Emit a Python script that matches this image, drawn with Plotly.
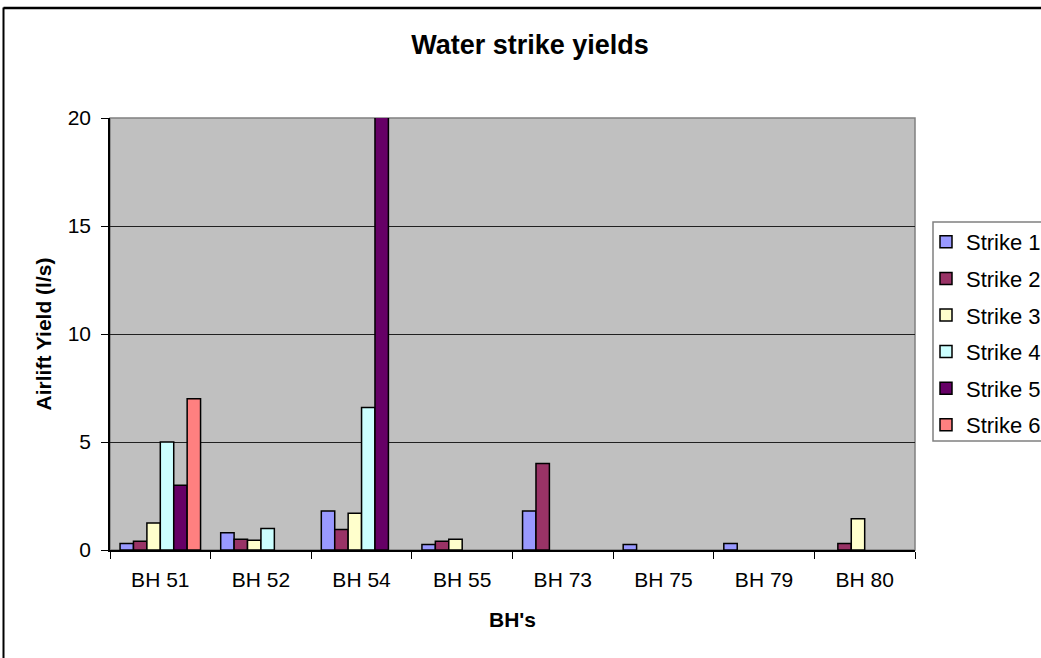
import plotly.graph_objects as go

categories = ["BH 51", "BH 52", "BH 54", "BH 55", "BH 73", "BH 75", "BH 79", "BH 80"]
series_names = ["Strike 1", "Strike 2", "Strike 3", "Strike 4", "Strike 5", "Strike 6"]
strike1 = [0.3, 0.8, 1.8, 0.25, 1.8, 0.25, 0.3, None]
strike2 = [0.4, 0.5, 0.95, 0.4, 4.0, None, None, 0.3]
strike3 = [1.25, 0.45, 1.7, 0.5, None, None, None, 1.45]
strike4 = [5.0, 1.0, 6.6, None, None, None, None, None]
strike5 = [3.0, None, 20.1, None, None, None, None, None]
strike6 = [7.0, None, None, None, None, None, None, None]
colors = ["#9999FF", "#993366", "#FFFFCC", "#CCFFFF", "#660066", "#FF8080"]
y_ticks = [0, 5, 10, 15, 20]

FONT = "Arial, Liberation Sans, sans-serif"
W, H = 1041, 658
L, R, T, B = 110, 915, 118, 550

fig = go.Figure()
for i, (name, vals) in enumerate(zip(series_names, [strike1, strike2, strike3, strike4, strike5, strike6])):
    fig.add_trace(go.Bar(
        x=categories, y=vals, name=name, legendgroup=name,
        marker=dict(color=colors[i], line=dict(color="black", width=1.5)),
        cliponaxis=False,
    ))

def px_x(p):
    return (p - L) / (R - L)

def px_y(p):
    return (B - p) / (B - T)

fig.update_layout(
    width=W, height=H,
    margin=dict(l=L, r=W - R, t=T, b=H - B, pad=0, autoexpand=False),
    paper_bgcolor="white",
    plot_bgcolor="#C0C0C0",
    barmode="group", bargap=0.2, bargroupgap=0,
    font=dict(family=FONT, size=20, color="black"),
    title=dict(text="<b>Water strike yields</b>", x=530 / W, xanchor="center", xref="container",
               y=1 - 45 / H, yanchor="middle", yref="container", font=dict(family=FONT, size=27)),
    legend=dict(
        x=px_x(926), y=px_y(221), xanchor="left", yanchor="top",
        bgcolor="rgba(0,0,0,0)", borderwidth=0,
        font=dict(family=FONT, size=22), tracegroupgap=5,
        traceorder="grouped", itemwidth=30,
    ),
    xaxis=dict(
        title=dict(text="<b>BH's</b>", standoff=22, font=dict(family=FONT, size=21)),
        showline=True, linecolor="black", linewidth=1.5,
        ticks="outside", ticklen=7, tickcolor="black", tickson="boundaries",
        showgrid=False, tickfont=dict(family=FONT, size=21),
        ticklabelstandoff=10,
    ),
    yaxis=dict(
        title=dict(text="<b>Airlift Yield (l/s)</b>", standoff=10, font=dict(family=FONT, size=21)),
        range=[0, 20], tickvals=y_ticks, ticktext=[str(v) for v in y_ticks],
        showline=True, linecolor="black", linewidth=1.5,
        ticks="outside", ticklen=7, tickcolor="black",
        showgrid=True, gridcolor="#202020", gridwidth=1,
        tickfont=dict(family=FONT, size=21), zeroline=False,
        ticklabelstandoff=6,
    ),
    shapes=[
        dict(type="rect", xref="paper", yref="paper", x0=0, y0=0, x1=1, y1=1,
             line=dict(color="#808080", width=1.5), layer="below"),
        dict(type="line", xref="paper", yref="paper",
             x0=px_x(3.5), y0=px_y(720), x1=px_x(3.5), y1=px_y(7.5),
             line=dict(color="black", width=2)),
        dict(type="line", xref="paper", yref="paper",
             x0=px_x(3.5), y0=px_y(8), x1=px_x(1150), y1=px_y(8),
             line=dict(color="black", width=2.5)),
        dict(type="rect", xref="paper", yref="paper",
             x0=px_x(933), y0=px_y(441), x1=px_x(1100), y1=px_y(222),
             line=dict(color="#808080", width=1.5), fillcolor="white", layer="below"),
    ],
)

fig.write_html("out.html", config={"displayModeBar": False},
               post_script="document.body.style.margin='0px';")
